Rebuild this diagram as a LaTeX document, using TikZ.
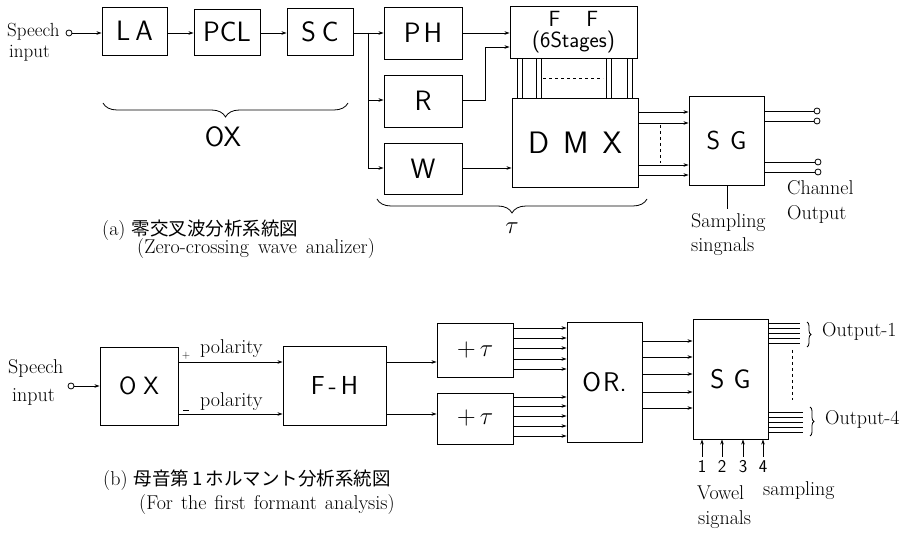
\documentclass[tikz,border=0pt]{standalone}
\usepackage{fontspec}
\newfontfamily\cjk{Noto Sans CJK JP}
\usetikzlibrary{arrows.meta,decorations.pathreplacing,calc}
\begin{document}
\begin{tikzpicture}[x=1pt,y=-1pt,
  blk/.style={draw,line width=0.9pt,inner sep=0pt,font=\sffamily\fontsize{28}{30}\selectfont},
  sig/.style={line width=0.8pt,-{Stealth[length=5pt,width=3.5pt]}},
  wire/.style={line width=0.8pt},
  term/.style={circle,draw,line width=0.8pt,inner sep=0pt,minimum size=6pt},
  lbl/.style={font=\fontsize{20}{22}\selectfont,inner sep=0pt},
  slbl/.style={font=\sffamily\fontsize{28}{30}\selectfont,inner sep=0pt},
  brc/.style={line width=0.8pt,decorate},
]
\useasboundingbox (0,0) rectangle (903,534);
% ---------------- (a) ----------------
\node[lbl,anchor=base west,align=left,font=\fontsize{19}{22}\selectfont] (sp1) at (7,58) {Speech\\[-1pt]\hspace{2pt}input};
\node[term] (in1) at (69,33) {};
\node[blk,minimum width=65pt,minimum height=48pt] (la) at (134.5,31) {L\hspace{5pt}A};
\node[blk,minimum width=66pt,minimum height=46pt] (pcl) at (227,32) {PCL};
\node[blk,minimum width=66pt,minimum height=47pt] (sc) at (320,31.5) {S\hspace{6pt}C};
\node[blk,minimum width=78pt,minimum height=52pt] (ph) at (423,33) {P\hspace{3pt}H};
\node[blk,minimum width=78pt,minimum height=52pt] (r) at (423,101) {R};
\node[blk,minimum width=78pt,minimum height=51pt] (w) at (423,168.5) {W};
\node[blk,minimum width=127pt,minimum height=52pt,align=center,font=\sffamily\fontsize{22}{21}\selectfont] (ff) at (573.5,32) {F\hspace{26pt}F\\(6Stages)};
\node[blk,minimum width=126pt,minimum height=89pt,font=\sffamily\fontsize{31}{32}\selectfont] (dmx) at (575,142.5) {D\hspace{14pt}M\hspace{14pt}X};
\node[blk,minimum width=75pt,minimum height=89pt,font=\sffamily\fontsize{26}{28}\selectfont] (sga) at (726.5,140.5) {S\hspace{10pt}G};

\draw[sig] (in1) -- (la.west |- in1);
\draw[sig] (la.east |- 0,33) -- (pcl.west |- 0,33);
\draw[sig] (pcl.east |- 0,33) -- (sc.west |- 0,33);
\coordinate (j) at (368,33);
\draw[wire] (sc.east |- j) -- (j);
\draw[sig] (j) -- (ph.west |- j);
\draw[sig] (j) |- (r.west |- 0,100);
\draw[sig] (j) |- (w.west |- 0,168);
\draw[sig] (ph.east |- 0,33) -- (ff.west |- 0,33);
\draw[sig] (r.east |- 0,100) -| (485,47) -- (ff.west |- 0,47);
\draw[sig] (w.east |- 0,168) -- (dmx.west |- 0,168);
\foreach \x in {517,522,536,541,606,611,627,632}
  \draw[wire] (ff.south -| \x,0) -- (dmx.north -| \x,0);
\draw[wire,dashed] (543,78) -- (603,78);
\foreach \y in {112,123,165,175}
  \draw[sig] (dmx.east |- 0,\y) -- (sga.west |- 0,\y);
\draw[wire,dashed] (660,125) -- (660,163);
\node[term] (o1) at (817,111) {};
\node[term] (o2) at (817,121) {};
\node[term] (o3) at (818,162) {};
\node[term] (o4) at (818,172) {};
\foreach \o in {o1,o2,o3,o4}
  \draw[wire] (sga.east |- \o) -- (\o.west);
\coordinate (samp) at (727,209);
\draw[wire] (samp) -- (sga.south -| samp);
\node[lbl,anchor=base west,align=left] (sampl) at (691,252) {Sampling\\[2pt]singnals};
\node[lbl,anchor=base west,align=left] (chan) at (787,220) {Channel\\[3pt]Output};
\draw[brc,decoration={brace,mirror,amplitude=14pt}] (103,103) -- (348,103);
\node[slbl] (oxl) at (223,137) {OX};
\draw[brc,decoration={brace,mirror,amplitude=14pt}] (377,199) -- (647,199);
\node[inner sep=0pt,font=\fontsize{24}{24}\selectfont] (taul) at (512,228) {$\tau$};
\node[lbl,anchor=west] (capa) at (102,230) {(a) {\cjk\fontsize{18.5}{20}\selectfont 零交叉波分析系統図}};
\node[lbl,anchor=west] (capae) at (137,249) {(Zero-crossing\hspace{9pt}wave\hspace{9pt}analizer)};
% ---------------- (b) ----------------
\node[lbl,anchor=base west,align=left] (sp2) at (8,402) {Speech\\[6pt]\hspace{4pt}input};
\node[term] (in2) at (71,386) {};
\node[blk,minimum width=78pt,minimum height=78pt,font=\sffamily\fontsize{25}{28}\selectfont] (ox) at (139,386) {O\hspace{7pt}X};
\node[blk,minimum width=103pt,minimum height=79pt,font=\sffamily\fontsize{26}{28}\selectfont] (fh) at (334.5,385.5) {F\hspace{4pt}-\hspace{4pt}H};
\node[blk,minimum width=76pt,minimum height=54pt,font=\sffamily\fontsize{26}{28}\selectfont] (t1) at (475,350) {+\hspace{4pt}$\tau$};
\node[blk,minimum width=76pt,minimum height=51pt,font=\sffamily\fontsize{26}{28}\selectfont] (t2) at (475,418.5) {+\hspace{4pt}$\tau$};
\node[blk,minimum width=75pt,minimum height=120pt,font=\sffamily\fontsize{27}{28}\selectfont] (or) at (604.5,382) {O\hspace{2pt}R.};
\node[blk,minimum width=75pt,minimum height=120pt,font=\sffamily\fontsize{27}{28}\selectfont] (sgb) at (730.5,379) {S\hspace{9pt}G};

\draw[sig] (in2) -- (ox.west |- in2);
\draw[sig] (ox.east |- 0,362) -- (fh.west |- 0,362);
\draw[sig] (ox.east |- 0,414) -- (fh.west |- 0,414);
\node[inner sep=0pt,font=\fontsize{11}{11}\selectfont] (plus) at (186,356) {+};
\node[inner sep=0pt,font=\fontsize{11}{11}\selectfont] (minus) at (186,410) {\rule{6pt}{0.7pt}};
\node[lbl,anchor=base west] (pol1) at (200,354) {polarity};
\node[lbl,anchor=base west] (pol2) at (200,407) {polarity};
\draw[sig] (fh.east |- 0,362) -- (t1.west |- 0,362);
\draw[sig] (fh.east |- 0,414) -- (t2.west |- 0,414);
\foreach \y in {328,338,348,359,369}
  \draw[sig] (t1.east |- 0,\y) -- (or.west |- 0,\y);
\foreach \y in {397,406,416,426,436}
  \draw[sig] (t2.east |- 0,\y) -- (or.west |- 0,\y);
\foreach \y in {341,357,374,392,408}
  \draw[sig] (or.east |- 0,\y) -- (sgb.west |- 0,\y);
\foreach \y in {323,328,333,338,343}
  \draw[wire] (sgb.east |- 0,\y) -- (800,\y);
\foreach \y in {412,417,422,427,432}
  \draw[wire] (sgb.east |- 0,\y) -- (803,\y);
\draw[wire,dashed] (792,350) -- (792,400);
\draw[brc,decoration={brace,amplitude=4pt}] (807,322) -- (807,347);
\draw[brc,decoration={brace,amplitude=4pt}] (810,407) -- (810,436);
\node[lbl,anchor=base west] (out1) at (822,337) {Output-1};
\node[lbl,anchor=base west] (out4) at (825,425) {Output-4};
\foreach \x/\n in {702/1,722/2,743/3,763/4}{
  \draw[sig] (\x,457) -- (sgb.south -| \x,0);
  \node[inner sep=0pt,anchor=base,font=\sffamily\fontsize{18}{18}\selectfont] (n\n) at (\x,473) {\n};
}
\node[lbl,anchor=base west] (vow) at (697,500) {Vowel};
\node[lbl,anchor=base west] (sampb) at (763,496) {sampling};
\node[lbl,anchor=base west] (sigs) at (698,525) {signals};
\node[lbl,anchor=west] (capb) at (103,480) {(b) {\cjk\fontsize{18.5}{20}\selectfont 母音第\,1\,ホルマント分析系統図}};
\node[lbl,anchor=west] (capbe) at (139,505) {(For\hspace{8pt}the\hspace{8pt}first\hspace{8pt}formant\hspace{8pt}analysis)};
\end{tikzpicture}
\end{document}
